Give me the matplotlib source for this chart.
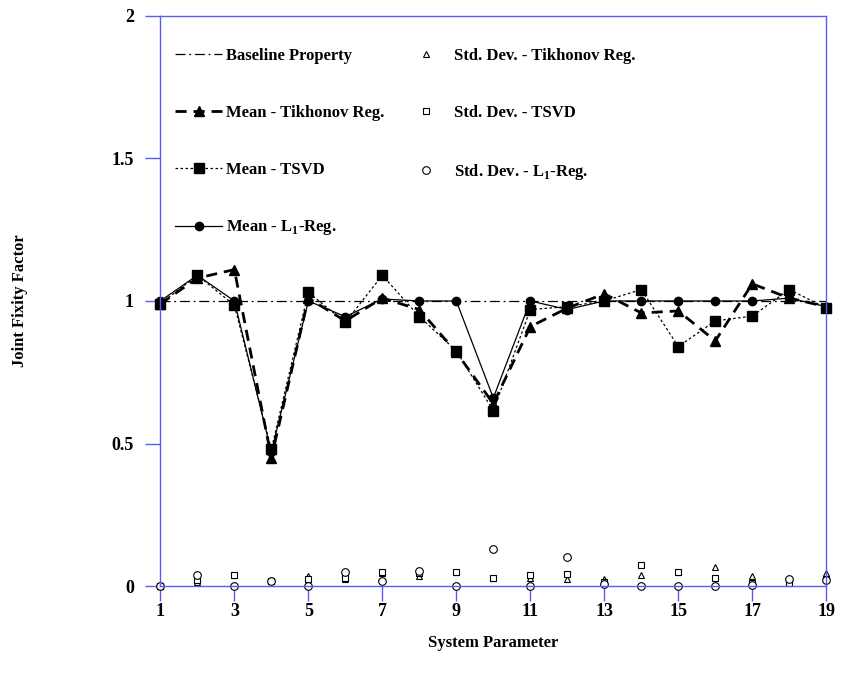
import matplotlib
matplotlib.use("Agg")
import matplotlib.pyplot as plt

plt.rcParams['font.family'] = 'Liberation Serif'
plt.rcParams['font.weight'] = 'bold'
plt.rcParams['mathtext.fontset'] = 'custom'
plt.rcParams['mathtext.rm'] = 'Liberation Serif:bold'
plt.rcParams['mathtext.bf'] = 'Liberation Serif:bold'

# system parameters
params = list(range(1, 20))

# mean values
mean_tikhonov = [0.99, 1.08, 1.11, 0.45, 1.01, 0.93, 1.01, 0.97, 0.82, 0.64,
                 0.91, 0.975, 1.025, 0.958, 0.965, 0.86, 1.06, 1.01, 0.98]
mean_tsvd = [0.99, 1.09, 0.985, 0.48, 1.03, 0.925, 1.09, 0.945, 0.825, 0.615,
             0.97, 0.98, 1.0, 1.04, 0.84, 0.93, 0.947, 1.04, 0.975]
mean_l1 = [1.0, 1.09, 1.0, 0.47, 1.0, 0.945, 1.007, 1.0, 1.0, 0.66,
           1.0, 0.97, 1.0, 1.0, 1.0, 1.0, 1.0, 1.01, 0.98]

# standard deviations
std_tikhonov = [0.0, 0.015, 0.038, 0.018, 0.035, 0.025, 0.045, 0.036, 0.05, 0.027,
                0.029, 0.025, 0.025, 0.039, 0.05, 0.066, 0.035, 0.015, 0.045]
std_tsvd = [0.0, 0.02, 0.039, 0.018, 0.025, 0.027, 0.048, 0.045, 0.05, 0.027,
            0.039, 0.044, 0.013, 0.076, 0.05, 0.027, 0.012, 0.01, 0.025]
std_l1 = [0.0, 0.039, 0.0, 0.018, 0.0, 0.048, 0.018, 0.054, 0.0, 0.129,
          0.0, 0.103, 0.006, 0.0, 0.0, 0.0, 0.005, 0.025, 0.02]

baseline = [1.0] * len(params)

blue = '#5a5aff'

fig = plt.figure(figsize=(8.44, 6.84), dpi=100)
ax = fig.add_axes([0.19, 0.143, 0.789, 0.834])

ax.plot(params, baseline, color='black', lw=0.9, ls=(0, (8, 3, 1.5, 3)),
        label='Baseline Property', clip_on=False)
ax.plot(params, mean_tikhonov, color='black', lw=2.0, ls=(0, (4, 2.5)),
        marker='^', ms=6.5, label='Mean - Tikhonov Reg.', clip_on=False)
ax.plot(params, mean_tsvd, color='black', lw=0.9, ls=(0, (2, 2)),
        marker='s', ms=7.5, label='Mean - TSVD', clip_on=False)
ax.plot(params, mean_l1, color='black', lw=0.9, ls='-',
        marker='o', ms=6, label='Mean - L$_{1}$-Reg.', clip_on=False)
ax.plot(params, std_tikhonov, ls='none', marker='^', ms=5, mfc='white',
        mec='black', mew=0.8, label='Std. Dev. - Tikhonov Reg.', clip_on=False)
ax.plot(params, std_tsvd, ls='none', marker='s', ms=5, mfc='white',
        mec='black', mew=0.8, label='Std. Dev. - TSVD', clip_on=False)
ax.plot(params, std_l1, ls='none', marker='o', ms=5.5, mfc='white',
        mec='black', mew=0.8, label='Std. Dev. - L$_{1}$-Reg.', clip_on=False)

ax.set_xlim(1, 19)
ax.set_ylim(0, 2)
ax.set_xticks(range(1, 20, 2))
ax.set_yticks([0, 0.5, 1, 1.5, 2])
ax.set_yticklabels(['0', '0.5', '1', '1.5', '2'])

for s in ax.spines.values():
    s.set_color(blue)
    s.set_linewidth(1.0)
ax.tick_params(axis='both', direction='out', length=11, width=1.0,
               color=blue, labelsize=13, pad=8)
ax.tick_params(axis='x', pad=1)
for lab in ax.get_xticklabels() + ax.get_yticklabels():
    lab.set_fontweight('bold')

ax.set_xlabel('System Parameter', fontsize=12, fontweight='bold', labelpad=11)
ax.set_ylabel('Joint Fixity Factor', fontsize=12, fontweight='bold', labelpad=60)

leg = ax.legend(loc='upper left', ncol=2, frameon=False, fontsize=12,
                handlelength=2.8, columnspacing=1.1, labelspacing=2.45,
                bbox_to_anchor=(0.0, 0.97), handletextpad=0.25)
for t in leg.get_texts():
    t.set_fontweight('bold')

fig.savefig('out.png', dpi=100)
